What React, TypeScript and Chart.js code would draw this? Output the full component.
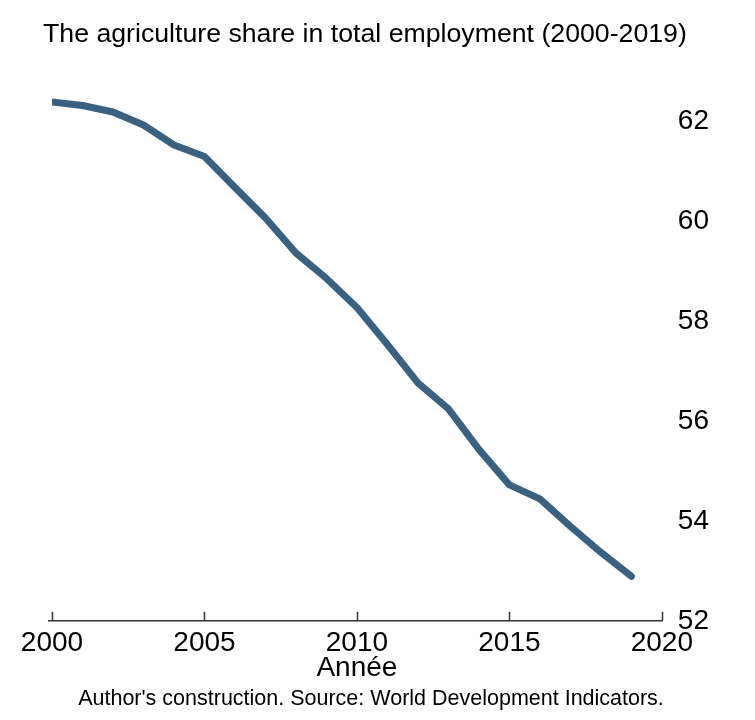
import React, { useEffect, useRef } from "react";
import { Chart, registerables } from "chart.js";

Chart.register(...registerables);

const years: number[] = [2000, 2001, 2002, 2003, 2004, 2005, 2006, 2007, 2008, 2009, 2010, 2011, 2012, 2013, 2014, 2015, 2016, 2017, 2018, 2019];
const agriShare: number[] = [62.38, 62.31, 62.18, 61.92, 61.52, 61.29, 60.67, 60.06, 59.36, 58.85, 58.27, 57.53, 56.76, 56.24, 55.43, 54.72, 54.44, 53.89, 53.37, 52.89];
const xTicks: number[] = [2000, 2005, 2010, 2015, 2020];
const yTicks: number[] = [52, 54, 56, 58, 60, 62];

const titleText = "The agriculture share in total employment (2000-2019)";
const xAxisTitle = "Année";
const footerText = "Author's construction. Source: World Development Indicators.";

const FONT = "'Liberation Sans', Arial, Helvetica, sans-serif";

export default function App() {
  const ref = useRef<HTMLCanvasElement | null>(null);

  useEffect(() => {
    if (!ref.current) return;
    const decor = {
      id: "decor",
      afterDraw(chart: any) {
        const ctx = chart.ctx;
        const area = chart.chartArea;
        const xs = chart.scales.x;
        ctx.save();
        // axis line
        ctx.strokeStyle = "#333333";
        ctx.lineWidth = 1.5;
        ctx.beginPath();
        ctx.moveTo(area.left - 4, area.bottom);
        ctx.lineTo(area.right + 1, area.bottom);
        ctx.stroke();
        // upward ticks
        xTicks.forEach((v) => {
          const px = Math.round(xs.getPixelForValue(v)) + 0.5;
          ctx.beginPath();
          ctx.moveTo(px, area.bottom);
          ctx.lineTo(px, area.bottom - 9);
          ctx.stroke();
        });
        // title
        ctx.fillStyle = "#000000";
        ctx.textBaseline = "alphabetic";
        ctx.textAlign = "left";
        ctx.font = `26.7px ${FONT}`;
        ctx.fillText(titleText, 43, 42);
        // footer
        ctx.font = `21.5px ${FONT}`;
        ctx.textAlign = "center";
        ctx.fillText(footerText, 371, 705);
        ctx.restore();
      },
    };

    const chart = new Chart(ref.current, {
      type: "line",
      data: {
        datasets: [
          {
            data: years.map((y, i) => ({ x: y, y: agriShare[i] })),
            borderColor: "#3b6180",
            borderWidth: 7,
            borderCapStyle: "round",
            borderJoinStyle: "round",
            pointRadius: 0,
            tension: 0,
            fill: false,
          },
        ],
      },
      options: {
        animation: false,
        responsive: false,
        maintainAspectRatio: false,
        layout: { padding: { top: 96, left: 52, right: 30, bottom: 35 } },
        plugins: {
          legend: { display: false },
          tooltip: { enabled: false },
          title: { display: false },
        },
        scales: {
          x: {
            type: "linear",
            min: 2000,
            max: 2020,
            afterBuildTicks: (axis: any) => {
              axis.ticks = xTicks.map((v) => ({ value: v }));
            },
            grid: { display: false, drawTicks: false },
            border: { display: false },
            ticks: {
              color: "#000000",
              font: { family: FONT, size: 28 },
              padding: 6,
              maxRotation: 0,
              autoSkip: false,
              callback: (v: any) => String(v),
            },
            title: {
              display: true,
              text: xAxisTitle,
              color: "#000000",
              font: { family: FONT, size: 28 },
              padding: { top: -15, bottom: 0 },
            },
          },
          y: {
            type: "linear",
            position: "right",
            min: 52,
            max: 62.5,
            afterBuildTicks: (axis: any) => {
              axis.ticks = yTicks.map((v) => ({ value: v }));
            },
            grid: { display: false, drawTicks: false },
            border: { display: false },
            ticks: {
              color: "#000000",
              font: { family: FONT, size: 28 },
              padding: 16,
              callback: (v: any) => String(v),
            },
          },
        },
      },
      plugins: [decor],
    } as any);
    return () => chart.destroy();
  }, []);

  return (
    <div style={{ position: "fixed", left: 0, top: 0, width: 755, height: 720, background: "#ffffff" }}>
      <canvas ref={ref} width={755} height={720} />
    </div>
  );
}
